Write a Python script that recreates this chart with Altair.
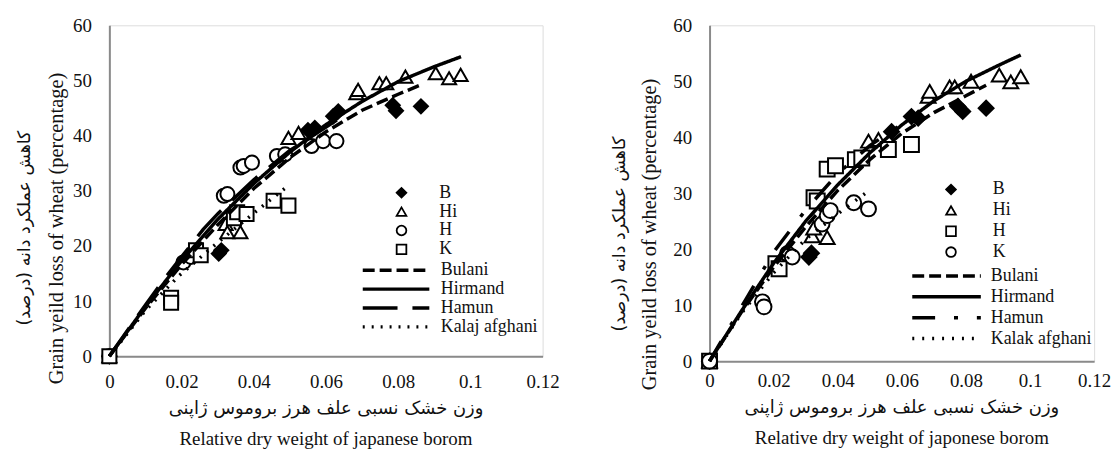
import altair as alt
import pandas as pd

SERIF = "Liberation Serif, Times New Roman, DejaVu Serif, serif"
FA = "DejaVu Sans"

X_TICKS = [0, 0.02, 0.04, 0.06, 0.08, 0.1, 0.12]
Y_TICKS = [0, 10, 20, 30, 40, 50, 60]
SERIES = ["B", "Hi", "H", "K"]

# ---------------- left panel: observed points ----------------
L_B_x = [0, 0.0303, 0.031, 0.055, 0.0569, 0.062, 0.0634, 0.0785, 0.0794, 0.0863]
L_B_y = [0, 18.6, 19.2, 41.0, 41.4, 43.5, 44.4, 45.5, 44.5, 45.3]
L_Hi_x = [0, 0.0322, 0.0327, 0.0363, 0.0496, 0.0524, 0.0684, 0.0689, 0.0748, 0.0767, 0.082, 0.0904, 0.0941, 0.0973]
L_Hi_y = [0, 24.0, 22.5, 22.5, 39.6, 40.5, 47.7, 48.3, 49.5, 49.5, 50.7, 51.3, 50.4, 51.0]
L_H_x = [0, 0.0205, 0.0226, 0.0317, 0.0327, 0.0363, 0.0372, 0.0395, 0.0464, 0.0487, 0.056, 0.0592, 0.0629]
L_H_y = [0, 17.0, 18.0, 29.1, 29.4, 34.2, 34.5, 35.1, 36.3, 36.6, 38.1, 39.0, 39.0]
L_K_x = [0, 0.0171, 0.0171, 0.024, 0.0253, 0.0345, 0.0354, 0.038, 0.0455, 0.0496]
L_K_y = [0, 10.6, 9.7, 19.2, 18.3, 25.0, 26.1, 25.8, 28.2, 27.3]

# ---------------- left panel: fitted curves ----------------
L_CULT = ["Bulani", "Hirmand", "Hamun", "Kalaj afghani"]
L_bul_x = [0, 0.01, 0.02, 0.03, 0.04, 0.05, 0.06, 0.07, 0.08, 0.0863]
L_bul_y = [0, 8.7, 16.6, 23.8, 30.4, 36.0, 40.7, 44.6, 47.5, 49.2]
L_hir_x = [0, 0.01, 0.02, 0.03, 0.04, 0.05, 0.06, 0.07, 0.08, 0.09, 0.0974]
L_hir_y = [0, 9.0, 17.3, 24.8, 31.3, 37.0, 42.0, 46.2, 49.8, 52.5, 54.3]
L_ham_x = [0, 0.01, 0.0157, 0.02, 0.026, 0.03, 0.04, 0.05, 0.063]
L_ham_y = [0, 9.3, 14.4, 18.0, 23.0, 25.8, 32.0, 37.3, 42.8]
L_kal_x = [0, 0.01, 0.0193, 0.03, 0.0426, 0.0495]
L_kal_y = [0, 8.3, 14.6, 20.6, 27.3, 30.9]

# ---------------- right panel: observed points ----------------
R_B_x = [0, 0.031, 0.0318, 0.0568, 0.063, 0.0651, 0.0775, 0.079, 0.0863]
R_B_y = [0, 18.6, 19.3, 41.0, 43.7, 43.4, 45.5, 44.6, 45.2]
R_Hi_x = [0, 0.032, 0.0325, 0.0367, 0.0496, 0.0527, 0.0682, 0.0687, 0.0749, 0.0765, 0.0816, 0.0904, 0.094, 0.0971]
R_Hi_y = [0, 22.4, 23.8, 22.1, 39.3, 39.6, 47.3, 48.2, 49.0, 49.0, 50.0, 51.1, 49.9, 50.8]
R_H_x = [0, 0.0207, 0.0217, 0.0326, 0.0336, 0.0367, 0.0393, 0.0455, 0.0475, 0.0558, 0.063]
R_H_y = [0, 17.4, 16.5, 29.2, 28.6, 34.3, 34.9, 36.0, 36.3, 37.8, 38.7]
R_K_x = [0, 0.0165, 0.017, 0.0243, 0.0258, 0.0351, 0.0367, 0.0377, 0.045, 0.0496]
R_K_y = [0, 10.6, 9.7, 19.2, 18.6, 24.5, 26.0, 26.9, 28.3, 27.2]

# ---------------- right panel: fitted curves ----------------
R_CULT = ["Bulani", "Hirmand", "Hamun", "Kalak afghani"]
R_bul_x = [0, 0.01, 0.02, 0.03, 0.04, 0.05, 0.06, 0.07, 0.08, 0.0863]
R_bul_y = [0, 8.8, 16.8, 24.0, 30.5, 36.0, 40.7, 44.4, 47.4, 49.3]
R_hir_x = [0, 0.01, 0.02, 0.03, 0.04, 0.05, 0.06, 0.07, 0.08, 0.09, 0.0971]
R_hir_y = [0, 9.0, 17.5, 25.0, 31.5, 37.2, 42.2, 46.5, 50.0, 52.8, 54.7]
R_ham_x = [0, 0.0113, 0.02, 0.03, 0.04, 0.05, 0.063]
R_ham_y = [0, 11.0, 19.5, 27.0, 33.5, 38.5, 43.5]
R_kal_x = [0, 0.01, 0.02, 0.03, 0.0413, 0.0496]
R_kal_y = [0, 8.6, 15.8, 21.8, 26.9, 30.4]

FA_Y = "کاهش عملکرد دانه (درصد)"
FA_X = "وزن خشک نسبی علف هرز بروموس ژاپنی"


def pts_frame(groups):
    rows = []
    for name, xs, ys in groups:
        for x, y in zip(xs, ys):
            rows.append({"x": x, "y": y, "series": name})
    return pd.DataFrame(rows)


def line_frame(groups):
    rows = []
    for name, xs, ys in groups:
        for i, (x, y) in enumerate(zip(xs, ys)):
            rows.append({"x": x, "y": y, "cultivar": name, "i": i})
    return pd.DataFrame(rows)


def panel(pts, lns, shapes, msize, cult, dashes, W, H, c):
    xs = alt.Scale(domain=[0, 0.12], nice=False, zero=True)
    ys = alt.Scale(domain=[0, 60], nice=False)
    xaxis = alt.Axis(values=X_TICKS, format="~g", title=None, grid=False, ticks=False,
                     domainColor="#8a8a8a", domainWidth=2, labelFont=SERIF, labelFontSize=19,
                     labelColor="#111", labelPadding=c["xlp"], labelFlush=False)
    yaxis = alt.Axis(values=Y_TICKS, title=c["ytitle"], grid=False, ticks=False,
                     domainColor="#8a8a8a", domainWidth=2, labelFont=SERIF, labelFontSize=19,
                     labelColor="#111", labelPadding=18, labelFlush=False,
                     titleFont=SERIF, titleFontSize=20.5, titleFontWeight="normal",
                     titleColor="#111", titleX=c["ytx"], titleY=c["yty"])
    sym_leg = alt.Legend(title=None, orient="none", legendX=c["slx"], legendY=c["sly"],
                         symbolSize=95, symbolStrokeWidth=1.8, symbolStrokeColor="black",
                         labelFont=SERIF, labelFontSize=18, labelColor="#111",
                         labelOffset=c["slo"], clipHeight=c["rowh"], rowPadding=0, padding=0,
                         symbolOpacity=1)
    pts_layer = alt.Chart(pts).mark_point(filled=True, strokeWidth=2,
                                          opacity=1, fillOpacity=1, size=msize).encode(
        x=alt.X("x:Q", scale=xs, axis=xaxis),
        y=alt.Y("y:Q", scale=ys, axis=yaxis),
        shape=alt.Shape("series:N", scale=alt.Scale(domain=SERIES, range=shapes), legend=sym_leg),
        fill=alt.Fill("series:N", scale=alt.Scale(domain=SERIES, range=["black", "white", "white", "white"]),
                      legend=sym_leg),
        stroke=alt.Stroke("series:N", scale=alt.Scale(domain=SERIES, range=["black", "black", "black", "black"]),
                          legend=sym_leg),
    )
    line_leg = alt.Legend(title=None, orient="none", legendX=c["llx"], legendY=c["lly"],
                          symbolType="stroke", symbolSize=c["lsz"], symbolStrokeWidth=3.5,
                          symbolStrokeColor="black", labelFont=SERIF, labelFontSize=18,
                          labelColor="#111", labelOffset=c["llo"], clipHeight=c["rowh"],
                          rowPadding=0, padding=0)
    line_layer = alt.Chart(lns).mark_line(color="black", strokeWidth=3.5).encode(
        x=alt.X("x:Q", scale=xs),
        y=alt.Y("y:Q", scale=ys),
        strokeDash=alt.StrokeDash("cultivar:N", scale=alt.Scale(domain=cult, range=dashes), legend=line_leg),
        order="i:Q",
    )
    fa_y = alt.Chart(pd.DataFrame({"t": [FA_Y]})).mark_text(
        angle=270, font=FA, fontSize=17.5, color="#111", dir="rtl", align="center",
        baseline="middle").encode(
        x=alt.value(c["fax"]), y=alt.value(c["yty"]), text="t:N")
    fa_x = alt.Chart(pd.DataFrame({"t": [FA_X]})).mark_text(
        font=FA, fontSize=18, color="#111", dir="rtl", align="center", baseline="middle").encode(
        x=alt.value(W / 2), y=alt.value(H + c["fxy"]), text="t:N")
    return alt.layer(pts_layer, line_layer, fa_y, fa_x).properties(
        width=W, height=H,
        title=alt.TitleParams(text=c["xtitle"], orient="bottom", anchor="middle", frame="group",
                              font=SERIF, fontSize=19, fontWeight="normal", color="#111",
                              offset=c["toff"]),
    )


left_pts = pts_frame([("B", L_B_x, L_B_y), ("Hi", L_Hi_x, L_Hi_y), ("H", L_H_x, L_H_y), ("K", L_K_x, L_K_y)])
left_lns = line_frame([("Bulani", L_bul_x, L_bul_y), ("Hirmand", L_hir_x, L_hir_y),
                       ("Hamun", L_ham_x, L_ham_y), ("Kalaj afghani", L_kal_x, L_kal_y)])
right_pts = pts_frame([("B", R_B_x, R_B_y), ("Hi", R_Hi_x, R_Hi_y), ("H", R_H_x, R_H_y), ("K", R_K_x, R_K_y)])
right_lns = line_frame([("Bulani", R_bul_x, R_bul_y), ("Hirmand", R_hir_x, R_hir_y),
                        ("Hamun", R_ham_x, R_ham_y), ("Kalak afghani", R_kal_x, R_kal_y)])

left = panel(left_pts, left_lns,
             ["diamond", "triangle-up", "circle", "square"], 200,
             L_CULT, [[12, 5], [1, 0], [35, 15], [2, 7]], 436, 333,
             dict(xlp=17, fxy=53, ytx=-43, yty=204, ytitle="Grain yeild loss  of wheat (percentage)",
                  slx=285, sly=159, slo=29, rowh=19, llx=253, lly=237, llo=9.5, lsz=4489,
                  fax=-85, xtitle="Relative dry weight of japanese borom", toff=12))
right = panel(right_pts, right_lns,
              ["diamond", "triangle-up", "square", "circle"], 225,
              R_CULT, [[12, 5], [1, 0], [23, 19, 4, 19], [2, 8]], 387, 338,
              dict(xlp=10, fxy=47, ytx=-50, yty=210, ytitle="Grain yeild loss of wheat (percentage)",
                   slx=234, sly=155, slo=33, rowh=20.5, llx=202, lly=242, llo=8, lsz=4761,
                   fax=-90, xtitle="Relative dry weight of japonese borom", toff=12))

chart = alt.hconcat(left, right, spacing=50).resolve_scale(
    shape="independent", fill="independent", stroke="independent", strokeDash="independent"
).resolve_legend(shape="independent", fill="independent", stroke="independent",
                 strokeDash="independent").properties(
    padding={"left": 7, "top": 6, "right": 0, "bottom": 0}
).configure_view(stroke=None).configure(background="white")

chart.save("out.html", embed_options={"renderer": "svg", "actions": False})
